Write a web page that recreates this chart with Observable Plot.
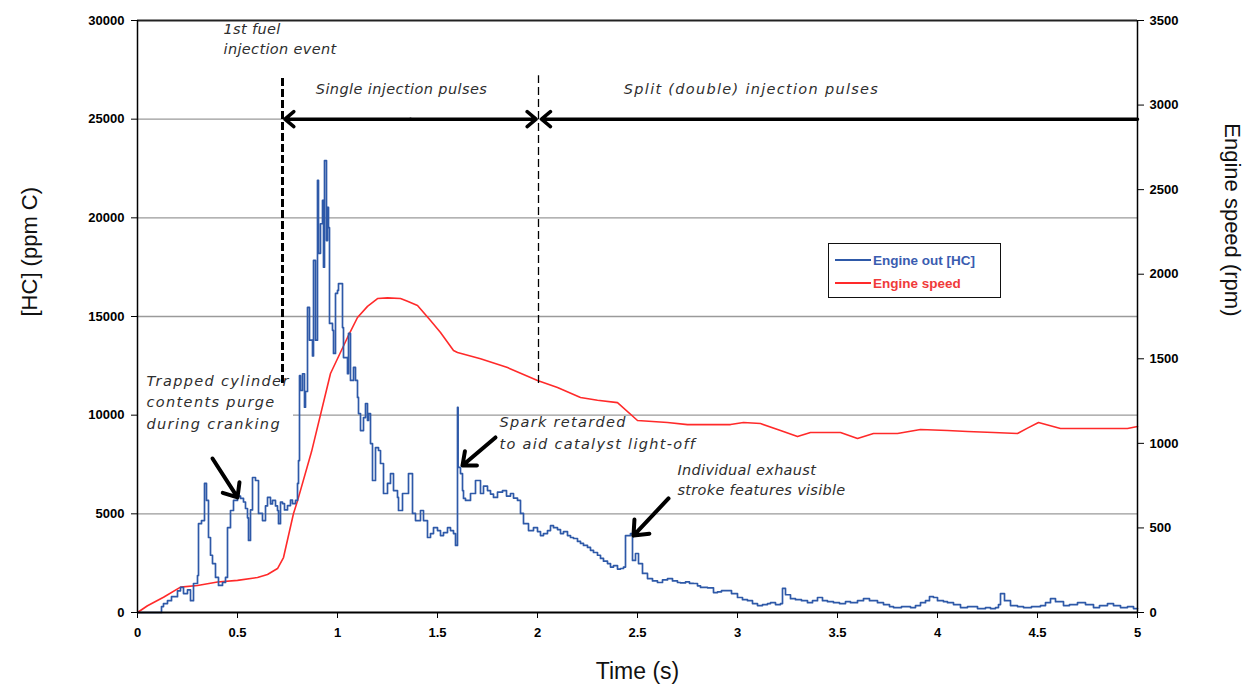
<!DOCTYPE html>
<html><head><meta charset="utf-8">
<script src="https://cdn.jsdelivr.net/npm/d3@7"></script>
<script src="https://cdn.jsdelivr.net/npm/@observablehq/plot@0.6"></script>
<style>
body{margin:0;background:#fff;}
#wrap{position:relative;width:1258px;height:693px;}
#legend{position:absolute;left:828px;top:243px;width:171px;height:53px;border:1.6px solid #111;background:#fff;
  font-family:"Liberation Sans",Arial,sans-serif;font-weight:bold;font-size:13.5px;}
#legend .row{position:absolute;left:6px;height:16px;display:flex;align-items:center;}
#legend .sw{display:inline-block;width:36px;height:1.6px;margin-right:2px;}
</style>
</head><body>
<div id="wrap"><div id="chart"></div>
<div id="legend">
 <div class="row" style="top:8px"><span class="sw" style="background:#2e59a8"></span><span style="color:#3a5cb0">Engine out [HC]</span></div>
 <div class="row" style="top:31px"><span class="sw" style="background:#ff2a2a"></span><span style="color:#f03a3a">Engine speed</span></div>
</div></div>
<script>
// ---- data ----
const hcTime = [0,0.10,0.12,0.13,0.15,0.17,0.20,0.215,0.23,0.25,0.265,0.28,0.30,0.305,0.32,0.335,0.345,0.355,0.365,0.375,0.39,0.405,0.425,0.44,0.45,0.465,0.48,0.50,0.515,0.53,0.54,0.55,0.555,0.565,0.575,0.59,0.605,0.625,0.64,0.65,0.665,0.675,0.69,0.70,0.705,0.715,0.725,0.735,0.75,0.765,0.775,0.79,0.80,0.805,0.81,0.815,0.825,0.835,0.84,0.85,0.86,0.875,0.88,0.89,0.90,0.905,0.915,0.925,0.93,0.935,0.945,0.95,0.955,0.96,0.975,0.98,0.99,1.00,1.005,1.015,1.025,1.03,1.05,1.055,1.065,1.08,1.09,1.10,1.105,1.115,1.13,1.14,1.15,1.155,1.165,1.175,1.19,1.205,1.215,1.23,1.25,1.265,1.28,1.30,1.305,1.325,1.34,1.355,1.375,1.39,1.415,1.43,1.45,1.465,1.48,1.50,1.515,1.53,1.55,1.565,1.58,1.59,1.60,1.603,1.615,1.625,1.63,1.64,1.665,1.69,1.70,1.715,1.73,1.75,1.765,1.78,1.80,1.825,1.845,1.865,1.88,1.90,1.915,1.93,1.955,1.98,2.00,2.015,2.03,2.05,2.065,2.08,2.10,2.115,2.13,2.15,2.165,2.18,2.20,2.215,2.23,2.25,2.265,2.28,2.30,2.315,2.33,2.35,2.365,2.38,2.40,2.415,2.43,2.44,2.465,2.475,2.49,2.505,2.525,2.55,2.575,2.60,2.625,2.65,2.675,2.70,2.715,2.74,2.76,2.78,2.80,2.815,2.85,2.88,2.90,2.92,2.95,2.97,3.00,3.025,3.05,3.075,3.10,3.125,3.15,3.165,3.19,3.215,3.225,3.24,3.265,3.29,3.32,3.35,3.375,3.40,3.425,3.45,3.48,3.51,3.54,3.565,3.60,3.63,3.66,3.70,3.73,3.76,3.78,3.82,3.865,3.89,3.915,3.94,3.96,3.98,4.00,4.03,4.05,4.08,4.115,4.15,4.20,4.24,4.265,4.29,4.305,4.315,4.335,4.365,4.40,4.43,4.47,4.515,4.54,4.565,4.59,4.63,4.66,4.70,4.74,4.78,4.81,4.85,4.88,4.915,4.95,4.98,5.00];
const hcValue = [0,0,300,450,600,800,1100,1270,960,1150,600,1470,1875,4500,4660,6540,5680,3800,2900,2480,1775,1370,1520,1775,4300,5170,5680,5900,5780,5600,5270,4800,3650,5200,6840,6690,5020,4660,5400,5830,5500,5680,5400,5170,4500,5600,5520,5200,5420,5700,5520,5680,6540,7700,12000,11250,12100,10400,11200,15460,13800,13000,17840,13800,21900,18200,19700,20880,17500,22900,18850,20530,19500,14650,14300,13130,16170,16320,16670,16670,14440,12920,12100,14140,11760,12420,11760,10900,10080,9220,9880,10590,9730,10080,8560,6690,8360,8210,7550,6030,6540,7040,6180,5830,5170,6030,6030,7040,5020,4660,5170,4660,3800,4000,4300,4150,3900,4050,4300,4150,4000,3400,10390,7350,7040,6180,5780,5680,6030,6690,6690,6030,6400,6180,6000,5830,6100,6180,5900,6030,5800,5680,5020,4500,4150,4300,4100,3900,4000,4150,4400,4300,4200,4000,4100,3900,3800,3750,3600,3500,3400,3300,3150,3040,2900,2740,2600,2480,2300,2380,2200,2230,2300,3900,4000,2640,2990,2480,1980,1720,1600,1520,1650,1720,1600,1520,1500,1550,1480,1470,1350,1270,1250,1010,1050,1110,1110,960,760,650,600,450,350,400,450,500,400,450,1220,900,700,650,600,500,600,760,600,550,500,450,550,500,600,700,600,500,400,300,250,300,250,350,500,600,800,760,600,550,500,400,250,300,200,250,200,250,400,960,600,350,300,250,300,350,500,700,550,350,400,500,400,250,350,450,350,250,300,200,200];

const speedTime = [0,0.05,0.13,0.215,0.30,0.40,0.50,0.60,0.65,0.70,0.73,0.78,0.80,0.87,0.965,1.05,1.10,1.15,1.20,1.25,1.315,1.35,1.40,1.465,1.515,1.58,1.60,1.715,1.85,2.00,2.10,2.215,2.30,2.40,2.50,2.65,2.75,2.965,3.03,3.115,3.215,3.30,3.365,3.515,3.60,3.68,3.80,3.915,4.05,4.15,4.28,4.40,4.45,4.505,4.615,4.95,5.00];
const speedRpm  = [0,40,90,150,160,180,190,207,225,260,325,585,660,950,1413,1626,1744,1810,1856,1860,1856,1840,1815,1726,1655,1549,1537,1500,1448,1372,1330,1271,1255,1241,1135,1123,1111,1111,1123,1117,1076,1040,1064,1064,1029,1058,1058,1082,1076,1070,1064,1058,1090,1123,1088,1088,1100];

const xTicks = [0,0.5,1,1.5,2,2.5,3,3.5,4,4.5,5];
const hcTicks = [0,5000,10000,15000,20000,25000,30000];
const rpmTicks = [0,500,1000,1500,2000,2500,3000,3500];
const gridHC = [5000,15000,20000,25000];

const phaseBounds = [0.725, 2.005];
const phaseLabels = ["Single injection pulses","Split (double) injection pulses"];
const phaseLabelT = [1.32, 3.07];

const noteText = ["1st fuel\ninjection event","Trapped cylinder\ncontents purge\nduring cranking","Spark retarded\nto aid catalyst light-off","Individual exhaust\nstroke features visible"];
const noteT = [0.43, 0.045, 1.81, 2.70];
const noteHC = [29150, 10744, 9224, 6791];

const arrowT1 = [0.375, 1.79, 2.655];
const arrowHC1 = [7805, 8870, 5778];
const arrowT2 = [0.50, 1.625, 2.48];
const arrowHC2 = [5830, 7450, 3900];

// ---- build ----
const RPM_TO_HC = 30000/3500;
const hc = hcTime.map((t,i)=>({t, v:hcValue[i]}));
const spd = speedTime.map((t,i)=>({t, v:speedRpm[i]*RPM_TO_HC}));
const notes = noteText.map((s,i)=>({s, t:noteT[i], v:noteHC[i]}));
const arrows = arrowT1.map((t,i)=>({x1:t, y1:arrowHC1[i], x2:arrowT2[i], y2:arrowHC2[i]}));
const mid = (phaseBounds[0]+phaseBounds[1])/2;
const spans = [
  {x1:mid, x2:phaseBounds[0]+0.012},
  {x1:mid, x2:phaseBounds[1]-0.012},
  {x1:5, x2:phaseBounds[1]+0.015}
];

// text styling (per annotation): line gap px, letter spacing px
const noteStyle = [{gap:20, ls:0.35}, {gap:21.5, ls:1.35}, {gap:22, ls:1.3}, {gap:20, ls:0.3}];
const phaseLS = [0.4, 1.3];
const annoBase = {fontFamily:"'DejaVu Sans',sans-serif", fontStyle:"italic", fill:"#2e2e2e", fontSize:14.5};
const tickFont = {fontFamily:"'Liberation Sans Narrow','Liberation Sans',Arial,sans-serif", fontWeight:"bold", fontSize:13};

const chart = Plot.plot({
  width:1258, height:693,
  marginLeft:137, marginRight:121, marginTop:20, marginBottom:81,
  style:{background:"#fff", overflow:"visible"},
  x:{domain:[0,5]},
  y:{domain:[0,30000]},
  marks:[
    Plot.ruleY(gridHC, {stroke:"#9a9a9a", strokeWidth:1.4}),
    Plot.ruleY([10000], {x1:0.78, x2:5, stroke:"#9a9a9a", strokeWidth:1.4}),
    Plot.line(spd, {x:"t", y:"v", stroke:"#ff2a2a", strokeWidth:1.6}),
    Plot.line(hc, {x:"t", y:"v", stroke:"#2e59a8", strokeWidth:1.7, curve:"step-after"}),
    Plot.ruleX([phaseBounds[0]], {y1:11600, y2:27200, stroke:"#000", strokeWidth:3, strokeDasharray:"8,3"}),
    Plot.ruleX([phaseBounds[1]], {y1:11600, y2:27200, stroke:"#000", strokeWidth:1.3, strokeDasharray:"8,4"}),
    Plot.arrow(spans, {x1:"x1", x2:"x2", y1:()=>25000, y2:()=>25000, stroke:"#000", strokeWidth:3.5, headLength:5, headAngle:80}),
    ...phaseLabels.map((lab,i)=>Plot.text([lab], {x:()=>phaseLabelT[i], y:()=>26500, text:d=>d, ...annoBase, textAnchor:"middle", ariaDescription:"phase-"+i})),
    ...notes.map((n,i)=>Plot.text([n], {x:"t", y:"v", text:"s", ...annoBase, lineHeight:noteStyle[i].gap/annoBase.fontSize, textAnchor:"start", lineAnchor:"middle", ariaDescription:"note-"+i})),
    Plot.arrow(arrows, {x1:"x1", y1:"y1", x2:"x2", y2:"y2", stroke:"#000", strokeWidth:4, headLength:6, headAngle:80}),
    Plot.ruleY([0], {stroke:"#000", strokeWidth:2}),
    Plot.ruleY([30000], {stroke:"#222", strokeWidth:2}),
    Plot.ruleX([0,5], {stroke:"#000", strokeWidth:1.5}),
    Plot.axisX({ticks:xTicks, tickSize:6, tickPadding:9, label:null, tickFormat:d=>String(d), ...tickFont, stroke:"#000"}),
    Plot.axisY({anchor:"left", ticks:hcTicks, tickSize:6, tickPadding:7, label:null, tickFormat:d=>String(d), ...tickFont}),
    Plot.axisY({anchor:"right", ticks:rpmTicks.map(r=>r*RPM_TO_HC), tickSize:6, tickPadding:6, label:null, tickFormat:d=>String(Math.round(d/RPM_TO_HC)), ...tickFont}),
    Plot.text(["Time (s)"], {frameAnchor:"bottom", dy:66, fontSize:23, fontFamily:"'Liberation Sans',Arial,sans-serif", fill:"#111"}),
    Plot.text(["[HC] (ppm C)"], {frameAnchor:"left", dx:-108, rotate:-90, fontSize:22, fontFamily:"'Liberation Sans',Arial,sans-serif", fill:"#111"}),
    Plot.text(["Engine speed (rpm)"], {frameAnchor:"right", dx:95, rotate:90, fontSize:22, fontFamily:"'Liberation Sans',Arial,sans-serif", fill:"#111"})
  ]
});
// letter spacing of the annotation texts
noteStyle.forEach((s,i)=>d3.select(chart).selectAll(`[aria-description="note-${i}"], [aria-description="note-${i}"] text`).style("letter-spacing", s.ls+"px"));
phaseLS.forEach((ls,i)=>d3.select(chart).selectAll(`[aria-description="phase-${i}"], [aria-description="phase-${i}"] text`).style("letter-spacing", ls+"px"));
document.getElementById("chart").append(chart);
</script>
</body></html>
